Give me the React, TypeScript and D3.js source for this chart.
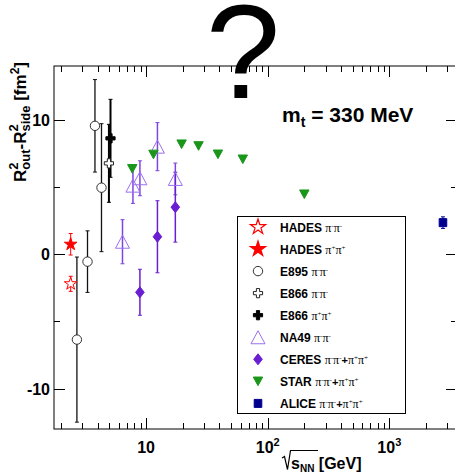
import React, { useRef, useEffect } from "react";
import * as d3 from "d3";

// sqrt(s_NN) in GeV, R2out - R2side in fm2, symmetric error
const hadesMinus = [{ e: 2.4, v: -2.2, err: 0.56 }];
const hadesPlus = [{ e: 2.4, v: 0.74, err: 0.8 }];
const e895 = [
  { e: 2.7, v: -6.35, err: 6.14 },
  { e: 3.3, v: -0.55, err: 2.29 },
  { e: 3.8, v: 9.55, err: 3.44 },
  { e: 4.3, v: 4.95, err: 4.76 }
];
const e866Minus = [{ e: 4.95, v: 6.76, err: 2.9 }];
const e866Plus = [{ e: 5.1, v: 8.62, err: 2.9 }];
const na49 = [
  { e: 6.4, v: 0.93, err: 1.64 },
  { e: 7.8, v: 5.1, err: 1.32 },
  { e: 8.9, v: 5.65, err: 1.3 },
  { e: 12.4, v: 8.0, err: 1.79 },
  { e: 17.4, v: 5.6, err: 1.18 }
];
const ceres = [
  { e: 8.9, v: -2.83, err: 1.71 },
  { e: 12.4, v: 1.3, err: 2.68 },
  { e: 17.4, v: 3.5, err: 2.6 }
];
const star = [
  { e: 7.7, v: 6.35, err: 0 },
  { e: 11.5, v: 7.42, err: 0 },
  { e: 19.6, v: 8.18, err: 0 },
  { e: 27, v: 8.05, err: 0 },
  { e: 39, v: 7.43, err: 0 },
  { e: 62.4, v: 7.06, err: 0 },
  { e: 200, v: 4.46, err: 0 }
];
const alice = [{ e: 2760, v: 2.35, err: 0.43 }];

const xMajor = [10, 100, 1000];
const xMajorExp = ["", "2", "3"];
const yMajor = [-10, 0, 10];
const yMinor = [-5, 5];

const series = [
  { data: hadesMinus, name: "HADES", pions: "π⁻π⁻", kind: "star", fill: "#fff", stroke: "#ff0000", bar: "#ff0000", bw: 1 },
  { data: hadesPlus, name: "HADES", pions: "π⁺π⁺", kind: "star", fill: "#ff0000", stroke: "#ff0000", bar: "#ff0000", bw: 1 },
  { data: e895, name: "E895", pions: "π⁻π⁻", kind: "circle", fill: "#fff", stroke: "#333", bar: "#111", bw: 1.3 },
  { data: e866Minus, name: "E866", pions: "π⁻π⁻", kind: "cross", fill: "#fff", stroke: "#222", bar: "#000", bw: 2 },
  { data: e866Plus, name: "E866", pions: "π⁺π⁺", kind: "cross", fill: "#000", stroke: "#000", bar: "#000", bw: 2 },
  { data: na49, name: "NA49", pions: "π⁻π⁻", kind: "triUp", fill: "none", stroke: "#9c6ff0", bar: "#7f45e0", bw: 1.5 },
  { data: ceres, name: "CERES", pions: "π⁻π⁻+π⁺π⁺", kind: "diamond", fill: "#6a1ed2", stroke: "#6a1ed2", bar: "#6a1ed2", bw: 1.5 },
  { data: star, name: "STAR", pions: "π⁻π⁻+π⁺π⁺", kind: "triDown", fill: "#1a961a", stroke: "#1a961a", bar: "#1a961a", bw: 1 },
  { data: alice, name: "ALICE", pions: "π⁻π⁻+π⁺π⁺", kind: "square", fill: "#00008f", stroke: "#00008f", bar: "#00008f", bw: 1 }
];

const FONT = "'Liberation Sans', Arial, Helvetica, sans-serif";

function markerPath(kind: string) {
  switch (kind) {
    case "star":
      return d3.symbol(d3.symbolStar, 50)();
    case "cross": {
      const a = 1.6, b = 4.6;
      return `M${-a},${-b}H${a}V${-a}H${b}V${a}H${a}V${b}H${-a}V${a}H${-b}V${-a}H${-a}Z`;
    }
    case "triUp":
      return "M0,-6.5L7,6.5L-7,6.5Z";
    case "triDown":
      return "M0,4.3L4.7,-4.3L-4.7,-4.3Z";
    case "diamond":
      return "M0,-5.5L4.3,0L0,5.5L-4.3,0Z";
    case "square":
      return "M-3.8,-4H3.8V4H-3.8Z";
    default:
      return d3.symbol(d3.symbolCircle, Math.PI * 4.7 * 4.7)();
  }
}

export default function App() {
  const ref = useRef<SVGSVGElement>(null);

  useEffect(() => {
    const svg = d3.select(ref.current);
    svg.selectAll("*").remove();

    const x = d3.scaleLog().domain([1.75, 3600]).range([54, 457]);
    const y = d3.scaleLinear().domain([-13, 14]).range([429, 66]);
    const [x0, x1] = x.range();
    const [y0, y1] = y.range();

    const g = svg.append("g");

    // frame
    g.append("rect")
      .attr("x", x0)
      .attr("y", y1)
      .attr("width", x1 - x0)
      .attr("height", y0 - y1)
      .attr("fill", "none")
      .attr("stroke", "#000")
      .attr("stroke-width", 1);

    // x ticks (bottom + top)
    const xMinor: number[] = [];
    [1, 10, 100, 1000].forEach(d => {
      for (let k = 2; k <= 9; k++) {
        const v = k * d;
        if (v > 1.75 && v < 3600) xMinor.push(v);
      }
    });
    const xt = xMajor.map(v => ({ v, len: 11 })).concat(xMinor.map(v => ({ v, len: 6 })));
    xt.forEach(t => {
      const px = Math.round(x(t.v)) + 0.5;
      g.append("line").attr("x1", px).attr("x2", px).attr("y1", y0).attr("y2", y0 - t.len).attr("stroke", "#000");
      g.append("line").attr("x1", px).attr("x2", px).attr("y1", y1).attr("y2", y1 + t.len).attr("stroke", "#000");
    });

    // y ticks (left + right)
    const yt = yMajor.map(v => ({ v, len: 11 })).concat(yMinor.map(v => ({ v, len: 6 })));
    yt.forEach(t => {
      const py = Math.round(y(t.v)) + 0.5;
      g.append("line").attr("x1", x0).attr("x2", x0 + t.len).attr("y1", py).attr("y2", py).attr("stroke", "#000");
      g.append("line").attr("x1", x1).attr("x2", x1 - t.len).attr("y1", py).attr("y2", py).attr("stroke", "#000");
    });

    // x tick labels
    xMajor.forEach((v, i) => {
      const t = g.append("text")
        .attr("x", x(v))
        .attr("y", 453)
        .attr("text-anchor", "middle")
        .attr("font-family", FONT)
        .attr("font-weight", "bold")
        .attr("font-size", 16)
        .text("10");
      if (xMajorExp[i]) {
        t.append("tspan").attr("dy", -7).attr("font-size", 11).text(xMajorExp[i]);
      }
    });

    // y tick labels
    yMajor.forEach(v => {
      g.append("text")
        .attr("x", 50)
        .attr("y", y(v) + 6)
        .attr("text-anchor", "end")
        .attr("font-family", FONT)
        .attr("font-weight", "bold")
        .attr("font-size", 16)
        .text(v);
    });

    // y title
    const yt2 = g.append("text")
      .attr("transform", "translate(26,62) rotate(-90)")
      .attr("text-anchor", "end")
      .attr("font-family", FONT)
      .attr("font-weight", "bold")
      .attr("font-size", 17);
    yt2.append("tspan").text("R");
    yt2.append("tspan").attr("font-size", 13).attr("dy", -8).text("2");
    yt2.append("tspan").attr("font-size", 13).attr("dx", -7.2).attr("dy", 12).text("out");
    yt2.append("tspan").attr("dy", -4).text("-R");
    yt2.append("tspan").attr("font-size", 13).attr("dy", -8).text("2");
    yt2.append("tspan").attr("font-size", 13).attr("dx", -7.2).attr("dy", 12).text("side");
    yt2.append("tspan").attr("dy", -4).text(" [fm");
    yt2.append("tspan").attr("font-size", 12).attr("dy", -7).text("2");
    yt2.append("tspan").attr("dy", 7).text("]");

    // x title with radical sign
    g.append("path")
      .attr("d", "M282,458L284.5,456.5L287.5,469.5L290.5,450.5H318")
      .attr("fill", "none")
      .attr("stroke", "#000")
      .attr("stroke-width", 1.2);
    const xt2 = g.append("text")
      .attr("x", 291)
      .attr("y", 469)
      .attr("font-family", FONT)
      .attr("font-weight", "bold")
      .attr("font-size", 16);
    xt2.append("tspan").text("s");
    xt2.append("tspan").attr("font-size", 10).attr("dy", 3).text("NN");
    xt2.append("tspan").attr("dy", -3).text(" [GeV]");

    // m_t label
    const mt = g.append("text")
      .attr("x", 282)
      .attr("y", 122)
      .attr("font-family", FONT)
      .attr("font-weight", "bold")
      .attr("font-size", 21);
    mt.append("tspan").text("m");
    mt.append("tspan").attr("font-size", 14).attr("dy", 5).text("t");
    mt.append("tspan").attr("dy", -5).text(" = 330 MeV");

    // error bars
    series.forEach(s => {
      s.data.forEach(d => {
        if (!d.err) return;
        const px = x(d.e);
        const ya = y(d.v + d.err);
        const yb = y(d.v - d.err);
        g.append("line").attr("x1", px).attr("x2", px).attr("y1", ya).attr("y2", yb)
          .attr("stroke", s.bar).attr("stroke-width", s.bw);
        [ya, yb].forEach(yy => {
          g.append("line").attr("x1", px - 2).attr("x2", px + 2).attr("y1", yy).attr("y2", yy)
            .attr("stroke", s.bar).attr("stroke-width", 1);
        });
      });
    });

    // markers
    series.forEach(s => {
      g.selectAll(null)
        .data(s.data)
        .enter()
        .append("path")
        .attr("d", markerPath(s.kind))
        .attr("transform", d => `translate(${x(d.e)},${y(d.v)})`)
        .attr("fill", s.fill)
        .attr("stroke", s.stroke)
        .attr("stroke-width", 1);
    });

    // legend
    g.append("rect")
      .attr("x", 237.5)
      .attr("y", 216.5)
      .attr("width", 168)
      .attr("height", 197)
      .attr("fill", "#fff")
      .attr("stroke", "#000");
    series.forEach((s, i) => {
      const ly = 227 + i * 22.05;
      g.append("path")
        .attr("d", markerPath(s.kind))
        .attr("transform", `translate(258,${ly})${s.kind === "star" ? " scale(1.2)" : ""}`)
        .attr("fill", s.fill)
        .attr("stroke", s.stroke)
        .attr("stroke-width", 1);
      const t = g.append("text")
        .attr("x", 280)
        .attr("y", ly + 4.5)
        .attr("font-family", FONT)
        .attr("font-size", 12);
      t.append("tspan").attr("font-weight", "bold").text(s.name);
      t.append("tspan").text(" ");
      let raised = false;
      Array.from(s.pions).forEach(ch => {
        if (ch === "⁻" || ch === "⁺") {
          t.append("tspan")
            .attr("font-size", 7)
            .attr("dy", raised ? 0 : -4)
            .attr("font-family", "'Liberation Serif', serif")
            .text(ch === "⁻" ? "-" : "+");
          raised = true;
        } else {
          t.append("tspan")
            .attr("font-size", ch === "+" ? 11 : 12)
            .attr("font-weight", ch === "+" ? "bold" : "normal")
            .attr("dy", raised ? 4 : 0)
            .attr("font-family", ch === "+" ? FONT : "'Liberation Serif', serif")
            .text(ch);
          raised = false;
        }
      });
    });

    // big question mark, above the frame
    g.append("text")
      .attr("x", 243)
      .attr("y", 98)
      .attr("text-anchor", "middle")
      .attr("font-family", FONT)
      .attr("font-size", 134)
      .attr("fill", "#000")
      .text("?");
  }, []);

  return (
    <svg
      ref={ref}
      width={455}
      height={475}
      style={{ position: "absolute", left: 0, top: 0, background: "#fff" }}
    />
  );
}
